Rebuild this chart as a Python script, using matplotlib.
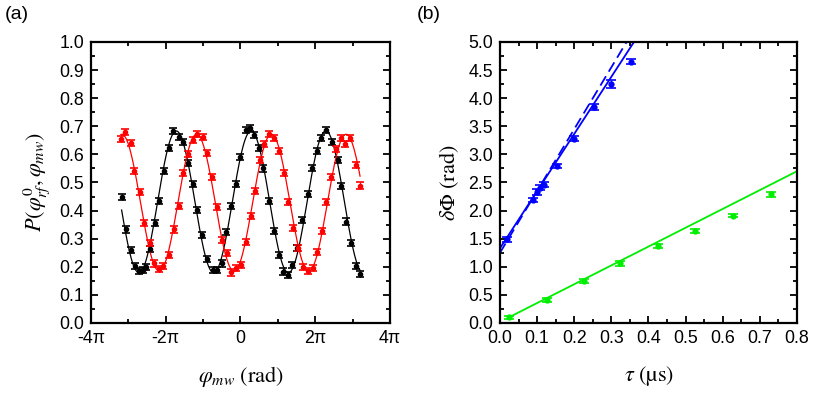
import numpy as np
import matplotlib
matplotlib.use('Agg')
import matplotlib.pyplot as plt
from matplotlib.ticker import MultipleLocator

plt.rcParams['font.family'] = ['Liberation Sans', 'DejaVu Sans']
plt.rcParams['mathtext.fontset'] = 'stix'
plt.rcParams['font.size'] = 12.8

# ---- panel (a): phase in units of pi
phi_black = [-3.18, -3.07, -2.94, -2.82, -2.71, -2.60, -2.53, -2.41, -2.29, -2.17,
             -2.05, -1.92, -1.80, -1.64, -1.55, -1.41, -1.28, -1.15, -1.02, -0.89,
             -0.74, -0.62, -0.50, -0.39, -0.25, -0.13, -0.01, 0.14, 0.25, 0.37,
             0.50, 0.61, 0.77, 0.90, 1.03, 1.15, 1.28, 1.37, 1.52, 1.66,
             1.80, 1.92, 2.04, 2.15, 2.29, 2.44, 2.60, 2.69, 2.82, 2.95,
             3.08, 3.20]
p_black = [0.449, 0.333, 0.261, 0.204, 0.185, 0.188, 0.200, 0.263, 0.355, 0.434,
           0.541, 0.624, 0.684, 0.661, 0.645, 0.570, 0.496, 0.402, 0.313, 0.228,
           0.189, 0.189, 0.212, 0.323, 0.416, 0.494, 0.592, 0.687, 0.693, 0.669,
           0.624, 0.550, 0.434, 0.327, 0.242, 0.183, 0.171, 0.206, 0.266, 0.367,
           0.458, 0.553, 0.612, 0.657, 0.687, 0.643, 0.580, 0.488, 0.361, 0.284,
           0.204, 0.173]

phi_red = [-3.20, -3.10, -2.94, -2.84, -2.69, -2.57, -2.42, -2.30, -2.18, -2.06,
           -1.92, -1.78, -1.65, -1.54, -1.41, -1.28, -1.15, -1.01, -0.89, -0.75,
           -0.62, -0.50, -0.37, -0.25, -0.12, 0.01, 0.14, 0.27, 0.39, 0.52,
           0.64, 0.77, 0.90, 1.03, 1.16, 1.28, 1.40, 1.55, 1.68, 1.81,
           1.95, 2.05, 2.19, 2.30, 2.42, 2.55, 2.68, 2.81, 2.93, 3.08,
           3.20]
p_red = [0.654, 0.679, 0.640, 0.541, 0.467, 0.355, 0.284, 0.212, 0.192, 0.204,
         0.242, 0.333, 0.417, 0.533, 0.600, 0.651, 0.672, 0.663, 0.604, 0.521,
         0.414, 0.295, 0.248, 0.180, 0.195, 0.206, 0.287, 0.381, 0.470, 0.580,
         0.636, 0.672, 0.659, 0.612, 0.535, 0.432, 0.337, 0.266, 0.200, 0.185,
         0.195, 0.252, 0.327, 0.430, 0.521, 0.618, 0.657, 0.636, 0.659, 0.562,
         0.489]
p_err = 0.011

# ---- panel (b)
tau_blue = [0.018, 0.088, 0.100, 0.107, 0.118, 0.153, 0.200, 0.253, 0.300, 0.353]
dphi_blue = [1.49, 2.19, 2.33, 2.41, 2.46, 2.79, 3.28, 3.84, 4.25, 4.65]
err_blue = [0.04, 0.04, 0.05, 0.05, 0.04, 0.04, 0.04, 0.05, 0.07, 0.05]

tau_green = [0.025, 0.126, 0.226, 0.324, 0.426, 0.526, 0.628, 0.729]
dphi_green = [0.10, 0.41, 0.75, 1.06, 1.37, 1.64, 1.91, 2.29]
err_green = [0.03, 0.03, 0.03, 0.04, 0.04, 0.03, 0.03, 0.04]

# line parameters (intercept, slope)
blue_fit = [1.33, 10.17]
blue_theory = [1.25, 11.0]
green_fit = [0.02, 3.35]


def sine_fit(x, y, xs):
    A = np.column_stack([np.ones_like(x), np.cos(x), np.sin(x)])
    c = np.linalg.lstsq(A, y, rcond=None)[0]
    return c[0] + c[1] * np.cos(xs) + c[2] * np.sin(xs)


def style_axes(ax):
    ax.tick_params(which='both', direction='in', top=True, right=True, width=1.3)
    ax.tick_params(which='major', length=5, pad=5)
    ax.tick_params(which='minor', length=3)
    for s in ax.spines.values():
        s.set_linewidth(1.6)


fig = plt.figure(figsize=(8.3, 4.15), dpi=100)
ax1 = fig.add_axes([0.1096, 0.2217, 0.3602, 0.6771])
ax2 = fig.add_axes([0.6024, 0.2217, 0.3578, 0.6771])

for phi, p, col in [(phi_black, p_black, 'black'), (phi_red, p_red, 'red')]:
    x = np.array(phi) * np.pi
    y = np.array(p)
    xs = np.linspace(x.min(), x.max(), 400)
    ax1.plot(xs, sine_fit(x, y, xs), color=col, lw=0.9)
    ax1.errorbar(x, y, yerr=p_err, fmt='o', color=col, ms=3, capsize=3,
                 elinewidth=0.9, capthick=1.2)

ax1.set_xlim(-4 * np.pi, 4 * np.pi)
ax1.set_ylim(0, 1.0)
ax1.set_xticks(np.arange(-4, 5, 2) * np.pi)
ax1.set_xticklabels(['-4π', '-2π', '0', '2π', '4π'])
ax1.xaxis.set_minor_locator(MultipleLocator(np.pi))
ax1.yaxis.set_major_locator(MultipleLocator(0.1))
ax1.yaxis.set_minor_locator(MultipleLocator(0.05))
ax1.yaxis.set_major_formatter(matplotlib.ticker.FormatStrFormatter('%.1f'))
style_axes(ax1)
ax1.set_xlabel(r'$\varphi_{mw}\ \mathrm{(rad)}$', fontsize=16, labelpad=12)
ax1.set_ylabel(r'$P(\varphi_{rf}^{0},\varphi_{mw})$', fontsize=16, labelpad=5)

# panel (b)
t1 = np.linspace(0, 0.4, 50)
ax2.plot(t1, blue_fit[0] + blue_fit[1] * t1, color='blue', lw=1.3)
ax2.plot(t1, blue_theory[0] + blue_theory[1] * t1, color='blue', lw=1.3, ls=(0, (6, 3)))
ax2.errorbar(tau_blue, dphi_blue, yerr=err_blue, fmt='o', color='blue', ms=3.5,
             capsize=3.4, elinewidth=1, capthick=1.2)
t2 = np.linspace(tau_green[0], 0.8, 50)
ax2.plot(t2, green_fit[0] + green_fit[1] * t2, color='#00ee00', lw=1.3)
ax2.errorbar(tau_green, dphi_green, yerr=err_green, fmt='o', color='#00ee00', ms=3.5,
             capsize=3.4, elinewidth=1, capthick=1.2)

ax2.set_xlim(0, 0.8)
ax2.set_ylim(0, 5.0)
ax2.xaxis.set_major_locator(MultipleLocator(0.1))
ax2.xaxis.set_minor_locator(MultipleLocator(0.05))
ax2.yaxis.set_major_locator(MultipleLocator(0.5))
ax2.yaxis.set_minor_locator(MultipleLocator(0.25))
ax2.xaxis.set_major_formatter(matplotlib.ticker.FormatStrFormatter('%.1f'))
ax2.yaxis.set_major_formatter(matplotlib.ticker.FormatStrFormatter('%.1f'))
style_axes(ax2)
ax2.set_xlabel(r'$\tau\ (\mathrm{µs})$', fontsize=16, labelpad=12)
ax2.set_ylabel(r'$\delta\Phi\ \mathrm{(rad)}$', fontsize=16, labelpad=5)

fig.text(0.006, 0.985, '(a)', fontsize=14, va='top', ha='left')
fig.text(0.502, 0.985, '(b)', fontsize=14, va='top', ha='left')

fig.savefig('out.png', dpi=100)
